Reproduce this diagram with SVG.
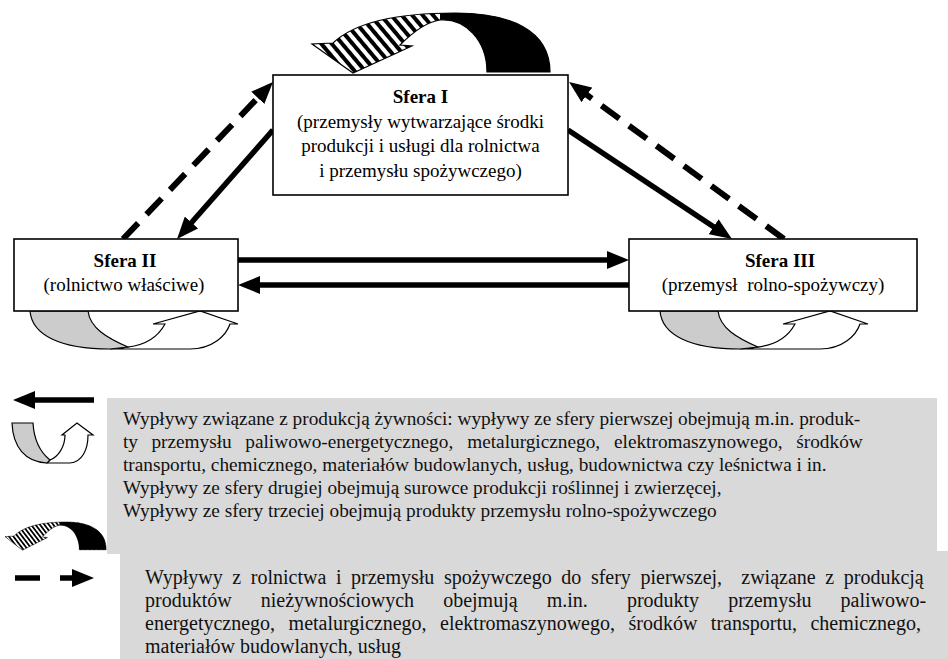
<svg xmlns="http://www.w3.org/2000/svg" xmlns:xlink="http://www.w3.org/1999/xlink" width="948" height="659" viewBox="0 0 948 659" font-family="'Liberation Serif', 'DejaVu Serif', serif">
<style>
text{font-family:'Liberation Serif','DejaVu Serif',serif}
.t{font-size:19px;fill:#000}
.b{font-weight:bold}
.lg{font-size:19.3px;fill:#111}
.lg2{font-size:20px;fill:#111}
.box{fill:#fff;stroke:#000;stroke-width:1.6}
.sol{stroke:#000;stroke-width:5.5;fill:none}
.dash{stroke:#000;stroke-width:6;fill:none;stroke-dasharray:22 12}
.ol{stroke:#000;stroke-width:1.2;stroke-linejoin:miter}
.bg{fill:#d9d9d9}
</style>
<defs>
<marker id="ah" markerUnits="userSpaceOnUse" markerWidth="22" markerHeight="18" refX="8" refY="9" orient="auto" viewBox="0 0 22 18">
<path d="M0,0 L22,9 L0,18 z" fill="#000"/>
</marker>
<pattern id="hatch" patternUnits="userSpaceOnUse" width="8" height="8" patternTransform="rotate(-40)">
<rect width="8" height="8" fill="#fff"/>
<rect width="4" height="8" fill="#000"/>
</pattern>
<clipPath id="rightPart" clipPathUnits="userSpaceOnUse"><rect x="440" y="0" width="200" height="100"/></clipPath>
<path id="loopShape" d="M550,72 C550,30 510,13 455,13 C400,13 355,22 333,43 L312,44 L353,73 L412,46 L400,45 C410,35 425,22 440,20 C465,18 487,40 487,72 Z"/>
<g id="loopArrow">
<use xlink:href="#loopShape" fill="url(#hatch)"/>
<use xlink:href="#loopShape" fill="#000" clip-path="url(#rightPart)"/>
<use xlink:href="#loopShape" fill="none" class="ol"/>
</g>
<g id="uArrow">
<path class="ol" fill="#fff" d="M110,349 L190,349 C212,349 226,336 230,324 L238,324 L200,311 L153,324 L165,324 C158,337 145,345 128,347 C122,348 116,349 110,349 Z"/>
<path class="ol" fill="#cccccc" d="M30,311 C32,335 60,349 110,349 L128,347 C107,338 90,328 88,311 Z"/>
</g>
</defs>
<rect width="948" height="659" fill="#fff"/>

<g id="connectors">
<line class="sol" x1="238" y1="260" x2="615" y2="260" marker-end="url(#ah)"/>
<line class="sol" x1="629" y1="285" x2="252" y2="285" marker-end="url(#ah)"/>
<line class="sol" x1="273" y1="130" x2="186.3" y2="228.5" marker-end="url(#ah)"/>
<line class="sol" x1="568" y1="130" x2="720.3" y2="231.2" marker-end="url(#ah)"/>
<line class="dash" x1="123" y1="239" x2="263.3" y2="92.1" marker-end="url(#ah)"/>
<line class="dash" x1="784" y1="239" x2="580.4" y2="90.2" marker-end="url(#ah)"/>
<use id="loop-sfera1" xlink:href="#loopArrow"/>
<use id="loop-sfera2" xlink:href="#uArrow"/>
<use id="loop-sfera3" xlink:href="#uArrow" transform="translate(630,0)"/>
</g>

<g id="sfera1">
<rect class="box" x="273" y="75" width="295" height="120"/>
<text class="t b" x="420.5" y="103" text-anchor="middle">Sfera I</text>
<text class="t" x="420.5" y="128" text-anchor="middle">(przemysły wytwarzające środki</text>
<text class="t" x="420.5" y="152" text-anchor="middle">produkcji i usługi dla rolnictwa</text>
<text class="t" x="420.5" y="177" text-anchor="middle">i przemysłu spożywczego)</text>
</g>
<g id="sfera2">
<rect class="box" x="14" y="239" width="224" height="72"/>
<text class="t b" x="125" y="267" text-anchor="middle">Sfera II</text>
<text class="t" x="124" y="291" text-anchor="middle">(rolnictwo właściwe)</text>
</g>
<g id="sfera3">
<rect class="box" x="629" y="239" width="288" height="72"/>
<text class="t b" x="780" y="267" text-anchor="middle">Sfera III</text>
<text class="t" x="773" y="291" text-anchor="middle" style="white-space:pre">(przemysł  rolno-spożywczy)</text>
</g>

<g id="legend">
<rect class="bg" x="107" y="398" width="830" height="156"/>
<rect class="bg" x="120" y="551" width="828" height="108"/>
<line class="sol" x1="94" y1="400" x2="27" y2="400" stroke-width="7" marker-end="url(#ah)"/>
<path class="ol" fill="#fff" d="M47,463 L70,463 C82,462 88,450 88,435 L93,435 L77,423 L62,435 L65,435 C65,447 58,457 50,460 Z"/>
<path class="ol" fill="#cccccc" d="M12,423 C13,447 25,462 47,463 L50,460 C40,452 34,440 33,423 Z"/>
<use xlink:href="#loopArrow" transform="matrix(0.425 0 0 0.47 -127.6 515.9)"/>
<line class="sol" x1="15" y1="578" x2="80" y2="578" stroke-width="7" stroke-dasharray="25 20" marker-end="url(#ah)"/>

<text class="lg" x="123" y="425">Wypływy związane z produkcją żywności: wypływy ze sfery pierwszej obejmują m.in. produk-</text>
<text class="lg" y="448"><tspan x="123">ty</tspan><tspan x="151.4">przemysłu</tspan><tspan x="245.3">paliwowo-energetycznego,</tspan><tspan x="467.2">metalurgicznego,</tspan><tspan x="614">elektromaszynowego,</tspan><tspan x="796.3">środków</tspan></text>
<text class="lg" x="123" y="471">transportu, chemicznego, materiałów budowlanych, usług, budownictwa czy leśnictwa i in.</text>
<text class="lg" x="123" y="494">Wypływy ze sfery drugiej obejmują surowce produkcji roślinnej i zwierzęcej,</text>
<text class="lg" x="123" y="517">Wypływy ze sfery trzeciej obejmują produkty przemysłu rolno-spożywczego</text>

<text class="lg2" x="145" y="584" word-spacing="4.6" style="white-space:pre">Wypływy z rolnictwa i przemysłu spożywczego do sfery pierwszej,  związane z produkcją</text>
<text class="lg2" y="607"><tspan x="145">produktów</tspan><tspan x="260.8">nieżywnościowych</tspan><tspan x="443.2">obejmują</tspan><tspan x="546.7">m.in.</tspan><tspan x="626.9">produkty</tspan><tspan x="728.2">przemysłu</tspan><tspan x="840.6">paliwowo-</tspan></text>
<text class="lg2" x="145" y="630" word-spacing="8.5">energetycznego, metalurgicznego, elektromaszynowego, środków transportu, chemicznego,</text>
<text class="lg2" x="145" y="653">materiałów budowlanych, usług</text>
</g>
</svg>
